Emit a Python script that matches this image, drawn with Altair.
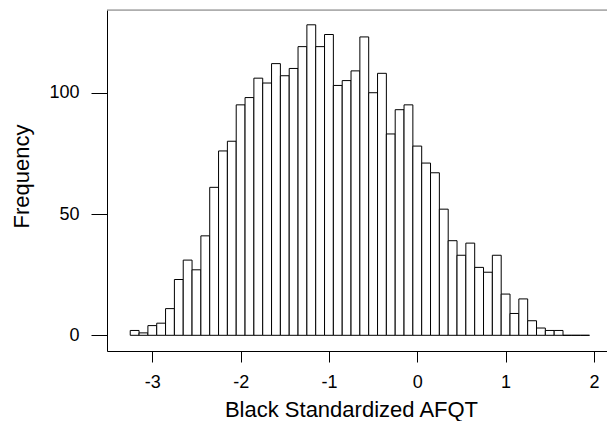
import altair as alt
import pandas as pd

bin_start = [-3.25, -3.15, -3.05, -2.95, -2.85, -2.75, -2.65, -2.55, -2.45, -2.35,
             -2.25, -2.15, -2.05, -1.95, -1.85, -1.75, -1.65, -1.55, -1.45, -1.35,
             -1.25, -1.15, -1.05, -0.95, -0.85, -0.75, -0.65, -0.55, -0.45, -0.35,
             -0.25, -0.15, -0.05, 0.05, 0.15, 0.25, 0.35, 0.45, 0.55, 0.65,
             0.75, 0.85, 0.95, 1.05, 1.15, 1.25, 1.35, 1.45, 1.55, 1.65,
             1.75, 1.85]
bin_width = 0.1
counts = [2, 1, 4, 5, 11, 23, 31, 27, 41, 61,
          76, 80, 95, 98, 106, 104, 112, 107, 110, 119,
          128, 119, 124, 103, 105, 109, 123, 100, 108, 83,
          93, 95, 78, 71, 67, 52, 39, 33, 38, 28,
          26, 33, 17, 9, 15, 6, 3, 2, 2, 0,
          0, 0]

x_ticks = [-3, -2, -1, 0, 1, 2]
y_ticks = [0, 50, 100]

df = pd.DataFrame({
    "start": bin_start,
    "end": [round(s + bin_width, 2) for s in bin_start],
    "count": counts,
    "zero": [0] * len(counts),
})

FONT = "Liberation Sans"

xscale = alt.Scale(domain=[-3.513, 2.148], nice=False, zero=False)
yscale = alt.Scale(domain=[-6.47, 134.1], nice=False, zero=False)

bars = alt.Chart(df).mark_bar(
    fill="white", stroke="black", strokeWidth=1, opacity=1
).encode(
    x=alt.X("start:Q", scale=xscale,
            axis=alt.Axis(values=x_ticks, title="Black Standardized AFQT",
                          grid=False, tickSize=11, labelPadding=11,
                          labelFontSize=18, labelFont=FONT, labelColor="black",
                          tickColor="black", domainColor="black",
                          titleFont=FONT, titleFontSize=22, titleFontWeight="normal",
                          titleColor="black", titleX=244, titleY=65,
                          titleAlign="center", titleBaseline="alphabetic",
                          labelExpr="'' + datum.value")),
    x2="end:Q",
    y=alt.Y("zero:Q", scale=yscale,
            axis=alt.Axis(values=y_ticks, title="Frequency", grid=False,
                          tickSize=16, labelPadding=12, labelFontSize=18,
                          labelFont=FONT, labelColor="black", tickColor="black",
                          domainColor="black", titleFont=FONT, titleFontSize=22,
                          titleFontWeight="normal", titleColor="black",
                          titleAngle=270, titleX=-79, titleY=166,
                          titleAlign="center", titleBaseline="alphabetic",
                          labelExpr="'' + datum.value")),
    y2="count:Q",
)

top = alt.Chart(pd.DataFrame({"a": [0]})).mark_rule(
    color="#808080", strokeWidth=1
).encode(x=alt.value(0), x2=alt.value(500), y=alt.value(0))

chart = alt.layer(bars, top).properties(
    width=500, height=341,
    autosize=alt.AutoSizeParams(type="none"),
    padding={"left": 107, "top": 10, "right": 0, "bottom": 70},
).configure_view(stroke=None).configure(background="white")

chart.save("out.html", embed_options={"renderer": "svg", "actions": False})
